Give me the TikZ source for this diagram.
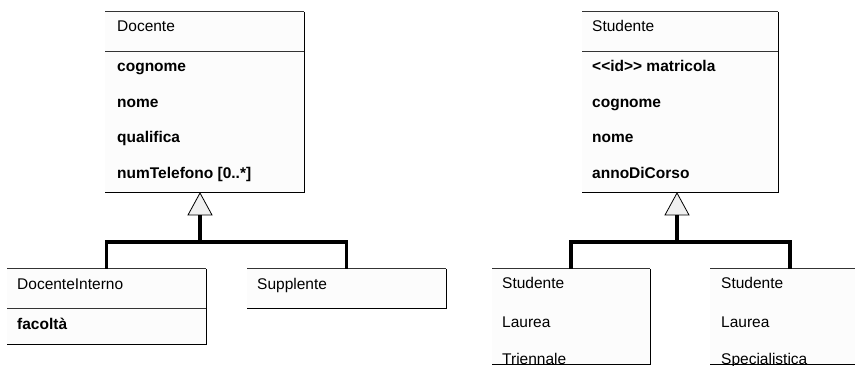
\documentclass[tikz,border=0pt]{standalone}
\usepackage{fontspec}
\setmainfont{Liberation Sans}
\usetikzlibrary{calc}

\begin{document}
\begin{tikzpicture}[x=1pt, y=-1pt,
        every node/.style={font=\fontsize{15.5}{18}\selectfont, inner sep=0pt},
        cls/.style={rectangle, fill=black!1, anchor=north west},
        head/.style={anchor=base west},
        attr/.style={anchor=base west, font=\fontsize{15.5}{18}\selectfont\bfseries},
        topline/.style={draw=black!80, line width=1pt},
        shadow/.style={draw=black, line width=1.6pt},
        gen/.style={draw=black, line width=3.5pt},
        tri/.style={draw=black, line width=0.8pt, fill=black!6, line join=miter}
        ]
        \useasboundingbox (0,0) rectangle (855,366);
        \fill[white] (0,0) rectangle (855,366);
        \clip (0,0) rectangle (855,366);

        % Docente and its subclasses
        \node[cls, minimum width=199pt, minimum height=180pt] (docente) at (105,12) {};
        \draw[topline] (docente.north west) -- (docente.north east);
        \draw[topline] ($(docente.north west)+(0,40)$) -- ($(docente.north east)+(0,40)$);
        \draw[shadow] (docente.north east) -- (docente.south east) -- (docente.south west);
        \node[head] (docName) at (117,32) {Docente};
        \foreach \a [count=\i] in {cognome, nome, qualifica, {numTelefono [0..*]}}
            \node[attr] (docAttr\i) at (117,{36.5+35.5*\i}) {\a};

        \node[cls, minimum width=199pt, minimum height=75pt] (interno) at (7,269) {};
        \draw[topline] (interno.north west) -- (interno.north east);
        \draw[topline] ($(interno.north west)+(0,40)$) -- ($(interno.north east)+(0,40)$);
        \draw[shadow] (interno.north east) -- (interno.south east) -- (interno.south west);
        \node[head] (internoName) at (17,290) {DocenteInterno};
        \node[attr] (internoAttr) at (17,330) {facoltà};

        \node[cls, minimum width=199pt, minimum height=39pt] (supplente) at (247,269) {};
        \draw[topline] (supplente.north west) -- (supplente.north east);
        \draw[shadow] (supplente.north east) -- (supplente.south east) -- (supplente.south west);
        \node[head] (supplenteName) at (257,290) {Supplente};

        % generalization Docente
        \coordinate (docTip) at (200,193);
        \coordinate (docBus) at (200,242);
        \draw[gen] ($(docTip)+(0,22)$) -- (docBus);
        \draw[gen] (interno.north) |- (docBus) -| (supplente.north);
        \draw[tri] (docTip) -- ++(12,22) -- ++(-24,0) -- cycle;

        % Studente and its subclasses
        \node[cls, minimum width=196pt, minimum height=180pt] (studente) at (582,12) {};
        \draw[topline] (studente.north west) -- (studente.north east);
        \draw[topline] ($(studente.north west)+(0,40)$) -- ($(studente.north east)+(0,40)$);
        \draw[shadow] (studente.north east) -- (studente.south east) -- (studente.south west);
        \node[head] (stuName) at (592,32) {Studente};
        \foreach \a [count=\i] in {<\kern0pt<id>\kern0pt> matricola, cognome, nome, annoDiCorso}
            \node[attr] (stuAttr\i) at (592,{36.5+35.5*\i}) {\a};

        \node[cls, minimum width=158pt, minimum height=95pt] (triennale) at (492,269) {};
        \foreach \a [count=\i] in {Studente, Laurea, Triennale}
            \node[head] (triName\i) at (502,{251+38*\i}) {\a};
        \draw[topline] (triennale.north west) -- (triennale.north east);
        \draw[shadow] (triennale.north east) -- (triennale.south east) -- (triennale.south west);

        \node[cls, minimum width=160pt, minimum height=95pt] (specialistica) at (710,269) {};
        \foreach \a [count=\i] in {Studente, Laurea, Specialistica}
            \node[head] (speName\i) at (721,{251+38*\i}) {\a};
        \draw[topline] (specialistica.north west) -- (specialistica.north east);
        \draw[shadow] (specialistica.north east) -- (specialistica.south east) -- (specialistica.south west);

        % generalization Studente
        \coordinate (stuTip) at (677,193);
        \coordinate (stuBus) at (677,242);
        \draw[gen] ($(stuTip)+(0,22)$) -- (stuBus);
        \draw[gen] (triennale.north) |- (stuBus) -| (specialistica.north);
        \draw[tri] (stuTip) -- ++(12,22) -- ++(-24,0) -- cycle;
\end{tikzpicture}
\end{document}
